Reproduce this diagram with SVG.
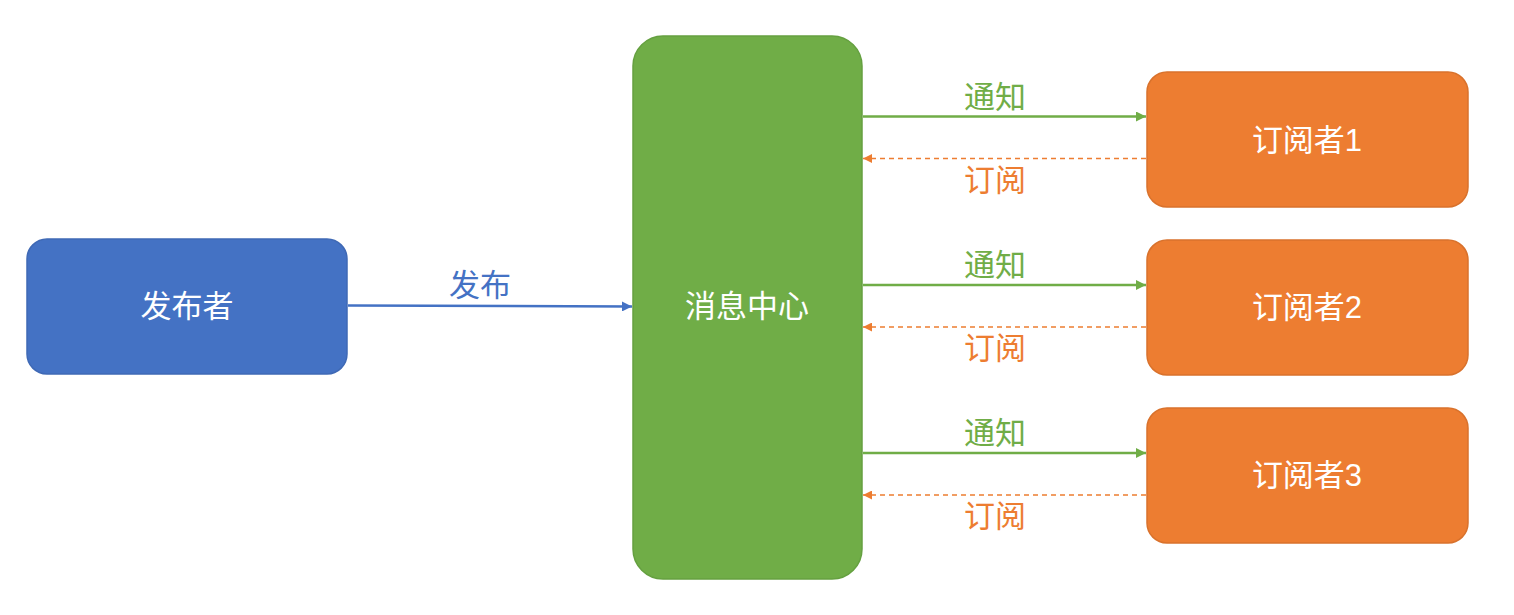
<svg xmlns="http://www.w3.org/2000/svg" width="1514" height="615" viewBox="0 0 1514 615">
<defs>
<style>
text{font-family:"Liberation Sans","Noto Sans CJK SC",sans-serif;text-anchor:middle;dominant-baseline:central}
.node text{fill:#ffffff;font-size:31px}
.pub rect{fill:#4472C4;stroke:#3F69B5;stroke-width:1.5}
.hub rect{fill:#70AD47;stroke:#65A040;stroke-width:1.5}
.sub rect{fill:#ED7D31;stroke:#D9722C;stroke-width:1.5}
.notify{stroke:#70AD47;stroke-width:2.5;fill:none}
.subs{stroke:#ED7D31;stroke-width:1.5;stroke-dasharray:5 4;fill:none}
.publish{stroke:#4472C4;stroke-width:2.5;fill:none}
.lg{fill:#70AD47;font-size:31px}
.lo{fill:#ED7D31;font-size:31px}
.lb{fill:#4472C4;font-size:31px}
</style>
<marker id="ag" viewBox="0 0 10 10" refX="10" refY="5" markerWidth="4" markerHeight="4" orient="auto" markerUnits="strokeWidth"><path d="M0,0 L10,5 L0,10 z" fill="#70AD47"/></marker>
<marker id="ab" viewBox="0 0 10 10" refX="10" refY="5" markerWidth="4" markerHeight="4" orient="auto" markerUnits="strokeWidth"><path d="M0,0 L10,5 L0,10 z" fill="#4472C4"/></marker>
<marker id="ao" viewBox="0 0 10 10" refX="10" refY="5" markerWidth="6" markerHeight="6" orient="auto" markerUnits="strokeWidth"><path d="M0,0 L10,5 L0,10 z" fill="#ED7D31"/></marker>
</defs>
<rect width="1514" height="615" fill="#ffffff"/>
<g id="publisher" class="node pub"><rect x="27" y="239" width="320" height="135" rx="20"/><text x="187" y="306">发布者</text></g>
<g id="hub" class="node hub"><rect x="633" y="36" width="229" height="543" rx="30"/><text x="747" y="306">消息中心</text></g>
<g id="sub1" class="node sub"><rect x="1147" y="72" width="321" height="135" rx="20"/><text x="1307" y="140">订阅者1</text></g>
<g id="sub2" class="node sub"><rect x="1147" y="240" width="321" height="135" rx="20"/><text x="1307" y="307">订阅者2</text></g>
<g id="sub3" class="node sub"><rect x="1147" y="408" width="321" height="135" rx="20"/><text x="1307" y="475">订阅者3</text></g>
<g id="connectors">
<path class="publish" d="M348,305.5 L632,306.5" marker-end="url(#ab)"/>
<text class="lb" x="480" y="285">发布</text>
<path class="notify" d="M863,116.5 L1146,116.5" marker-end="url(#ag)"/>
<path class="subs" d="M1146,158.5 L863,158.5" marker-end="url(#ao)"/>
<text class="lg" x="995" y="97">通知</text>
<text class="lo" x="995" y="180">订阅</text>
<path class="notify" d="M863,285 L1146,285" marker-end="url(#ag)"/>
<path class="subs" d="M1146,327 L863,327" marker-end="url(#ao)"/>
<text class="lg" x="995" y="265">通知</text>
<text class="lo" x="995" y="348">订阅</text>
<path class="notify" d="M863,453 L1146,453" marker-end="url(#ag)"/>
<path class="subs" d="M1146,495 L863,495" marker-end="url(#ao)"/>
<text class="lg" x="995" y="433">通知</text>
<text class="lo" x="995" y="516">订阅</text>
</g>
</svg>
